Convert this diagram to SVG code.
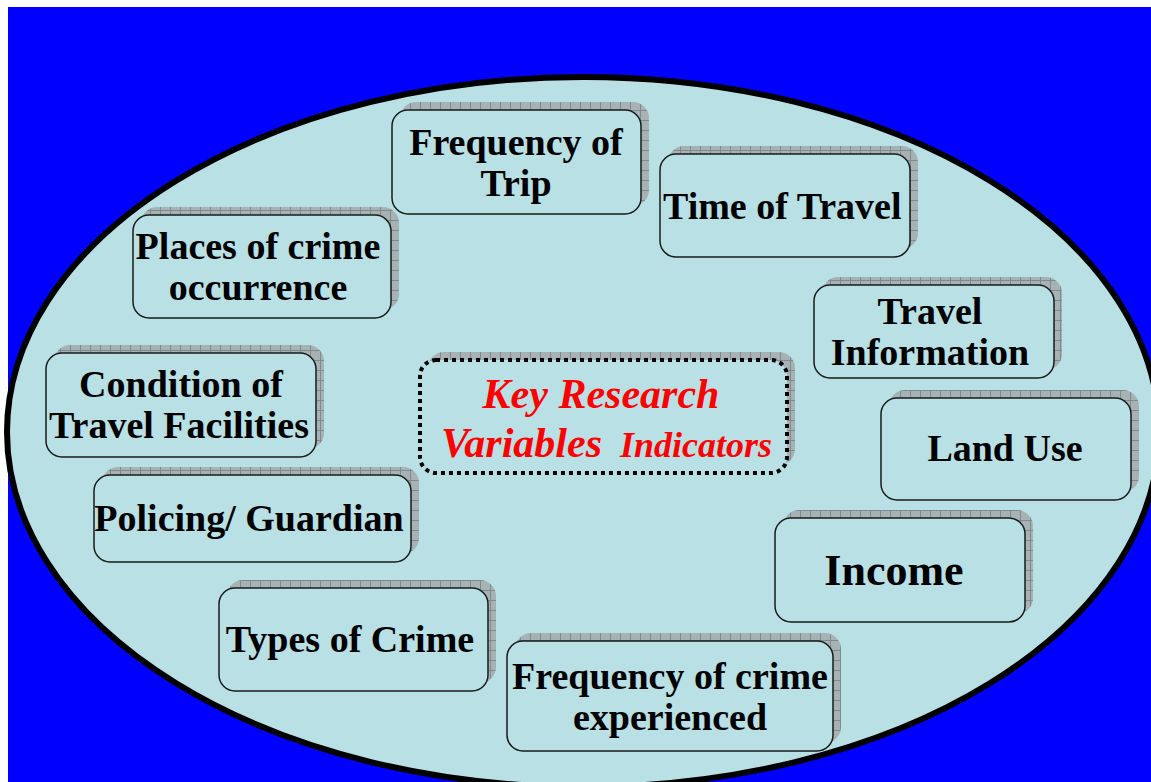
<svg xmlns="http://www.w3.org/2000/svg" width="1151" height="782" viewBox="0 0 1151 782">
<defs>
<pattern id="hatch" width="10" height="10" patternUnits="userSpaceOnUse">
<rect width="10" height="10" fill="#A7B2B4"/>
<path d="M0 0.5H10M0.5 0V10" stroke="#7F8A8C" stroke-width="1"/>
</pattern>
</defs>
<rect x="0" y="0" width="1151" height="782" fill="#FFFFFF"/>
<rect x="8" y="7" width="1143" height="775" fill="#0000FF"/>
<ellipse cx="583" cy="432" rx="576" ry="355" fill="#B9E0E4" stroke="#000" stroke-width="6"/>
<g id="connectors"/>
<g id="center">
<rect fill="url(#hatch)" x="428" y="352" width="367" height="113" rx="16"/>
<rect fill="#B9E0E4" stroke="#000" stroke-width="4" stroke-dasharray="4 4" x="420" y="360" width="367" height="113" rx="16"/>
<text font-family="Times New Roman" font-weight="bold" font-style="italic" fill="#FF0000" text-anchor="middle" x="601" y="408" font-size="42">Key Research</text>
<text font-family="Liberation Serif" font-weight="bold" font-style="italic" fill="#FF0000" x="441" y="457" font-size="42">Variables</text>
<text font-family="Liberation Serif" font-weight="bold" font-style="italic" fill="#FF0000" x="620" y="457" font-size="36">Indicators</text>
</g>
<g id="freqTrip">
<rect fill="url(#hatch)" x="400" y="102" width="249" height="104" rx="16"/>
<rect fill="#B9E0E4" stroke="#1a1a1a" stroke-width="1.5" x="392" y="110" width="249" height="104" rx="16"/>
<text font-family="Times New Roman" font-weight="bold" font-size="38" text-anchor="middle" x="516" y="155">Frequency of</text>
<text font-family="Times New Roman" font-weight="bold" font-size="38" text-anchor="middle" x="516" y="196">Trip</text>
</g>
<g id="timeTravel">
<rect fill="url(#hatch)" x="668" y="146" width="250" height="103" rx="16"/>
<rect fill="#B9E0E4" stroke="#1a1a1a" stroke-width="1.5" x="660" y="154" width="250" height="103" rx="16"/>
<text font-family="Liberation Serif" font-weight="bold" font-size="38" x="663" y="219">Time of Travel</text>
</g>
<g id="places">
<rect fill="url(#hatch)" x="141" y="207" width="258" height="103" rx="16"/>
<rect fill="#B9E0E4" stroke="#1a1a1a" stroke-width="1.5" x="133" y="215" width="258" height="103" rx="16"/>
<text font-family="Liberation Serif" font-weight="bold" font-size="38" text-anchor="middle" x="258" y="259">Places of crime</text>
<text font-family="Liberation Serif" font-weight="bold" font-size="38" text-anchor="middle" x="258" y="300">occurrence</text>
</g>
<g id="travelInfo">
<rect fill="url(#hatch)" x="822" y="277" width="240" height="93" rx="16"/>
<rect fill="#B9E0E4" stroke="#1a1a1a" stroke-width="1.5" x="814" y="285" width="240" height="93" rx="16"/>
<text font-family="Liberation Serif" font-weight="bold" font-size="38" text-anchor="middle" x="930" y="324">Travel</text>
<text font-family="Liberation Serif" font-weight="bold" font-size="38" text-anchor="middle" x="930" y="365">Information</text>
</g>
<g id="condition">
<rect fill="url(#hatch)" x="54" y="345" width="270" height="104" rx="16"/>
<rect fill="#B9E0E4" stroke="#1a1a1a" stroke-width="1.5" x="46" y="353" width="270" height="104" rx="16"/>
<text font-family="Liberation Serif" font-weight="bold" font-size="38" text-anchor="middle" x="181" y="397">Condition of</text>
<text font-family="Liberation Serif" font-weight="bold" font-size="38" text-anchor="middle" x="179" y="438">Travel Facilities</text>
</g>
<g id="landUse">
<rect fill="url(#hatch)" x="889" y="390" width="250" height="102" rx="16"/>
<rect fill="#B9E0E4" stroke="#1a1a1a" stroke-width="1.5" x="881" y="398" width="250" height="102" rx="16"/>
<text font-family="Liberation Serif" font-weight="bold" font-size="38" text-anchor="middle" x="1005" y="461">Land Use</text>
</g>
<g id="policing">
<rect fill="url(#hatch)" x="102" y="467" width="317" height="87" rx="16"/>
<rect fill="#B9E0E4" stroke="#1a1a1a" stroke-width="1.5" x="94" y="475" width="317" height="87" rx="16"/>
<text font-family="Liberation Serif" font-weight="bold" font-size="38" text-anchor="middle" x="249" y="531">Policing/ Guardian</text>
</g>
<g id="income">
<rect fill="url(#hatch)" x="783" y="510" width="250" height="104" rx="16"/>
<rect fill="#B9E0E4" stroke="#1a1a1a" stroke-width="1.5" x="775" y="518" width="250" height="104" rx="16"/>
<text font-family="Liberation Serif" font-weight="bold" font-size="44" text-anchor="middle" x="894" y="585">Income</text>
</g>
<g id="types">
<rect fill="url(#hatch)" x="227" y="580" width="269" height="103" rx="16"/>
<rect fill="#B9E0E4" stroke="#1a1a1a" stroke-width="1.5" x="219" y="588" width="269" height="103" rx="16"/>
<text font-family="Liberation Serif" font-weight="bold" font-size="38" text-anchor="middle" x="350" y="652">Types of Crime</text>
</g>
<g id="freqCrime">
<rect fill="url(#hatch)" x="515" y="633" width="326" height="110" rx="16"/>
<rect fill="#B9E0E4" stroke="#1a1a1a" stroke-width="1.5" x="507" y="641" width="326" height="110" rx="16"/>
<text font-family="Liberation Serif" font-weight="bold" font-size="38" text-anchor="middle" x="670" y="689">Frequency of crime</text>
<text font-family="Liberation Serif" font-weight="bold" font-size="38" text-anchor="middle" x="670" y="730">experienced</text>
</g>
</svg>
